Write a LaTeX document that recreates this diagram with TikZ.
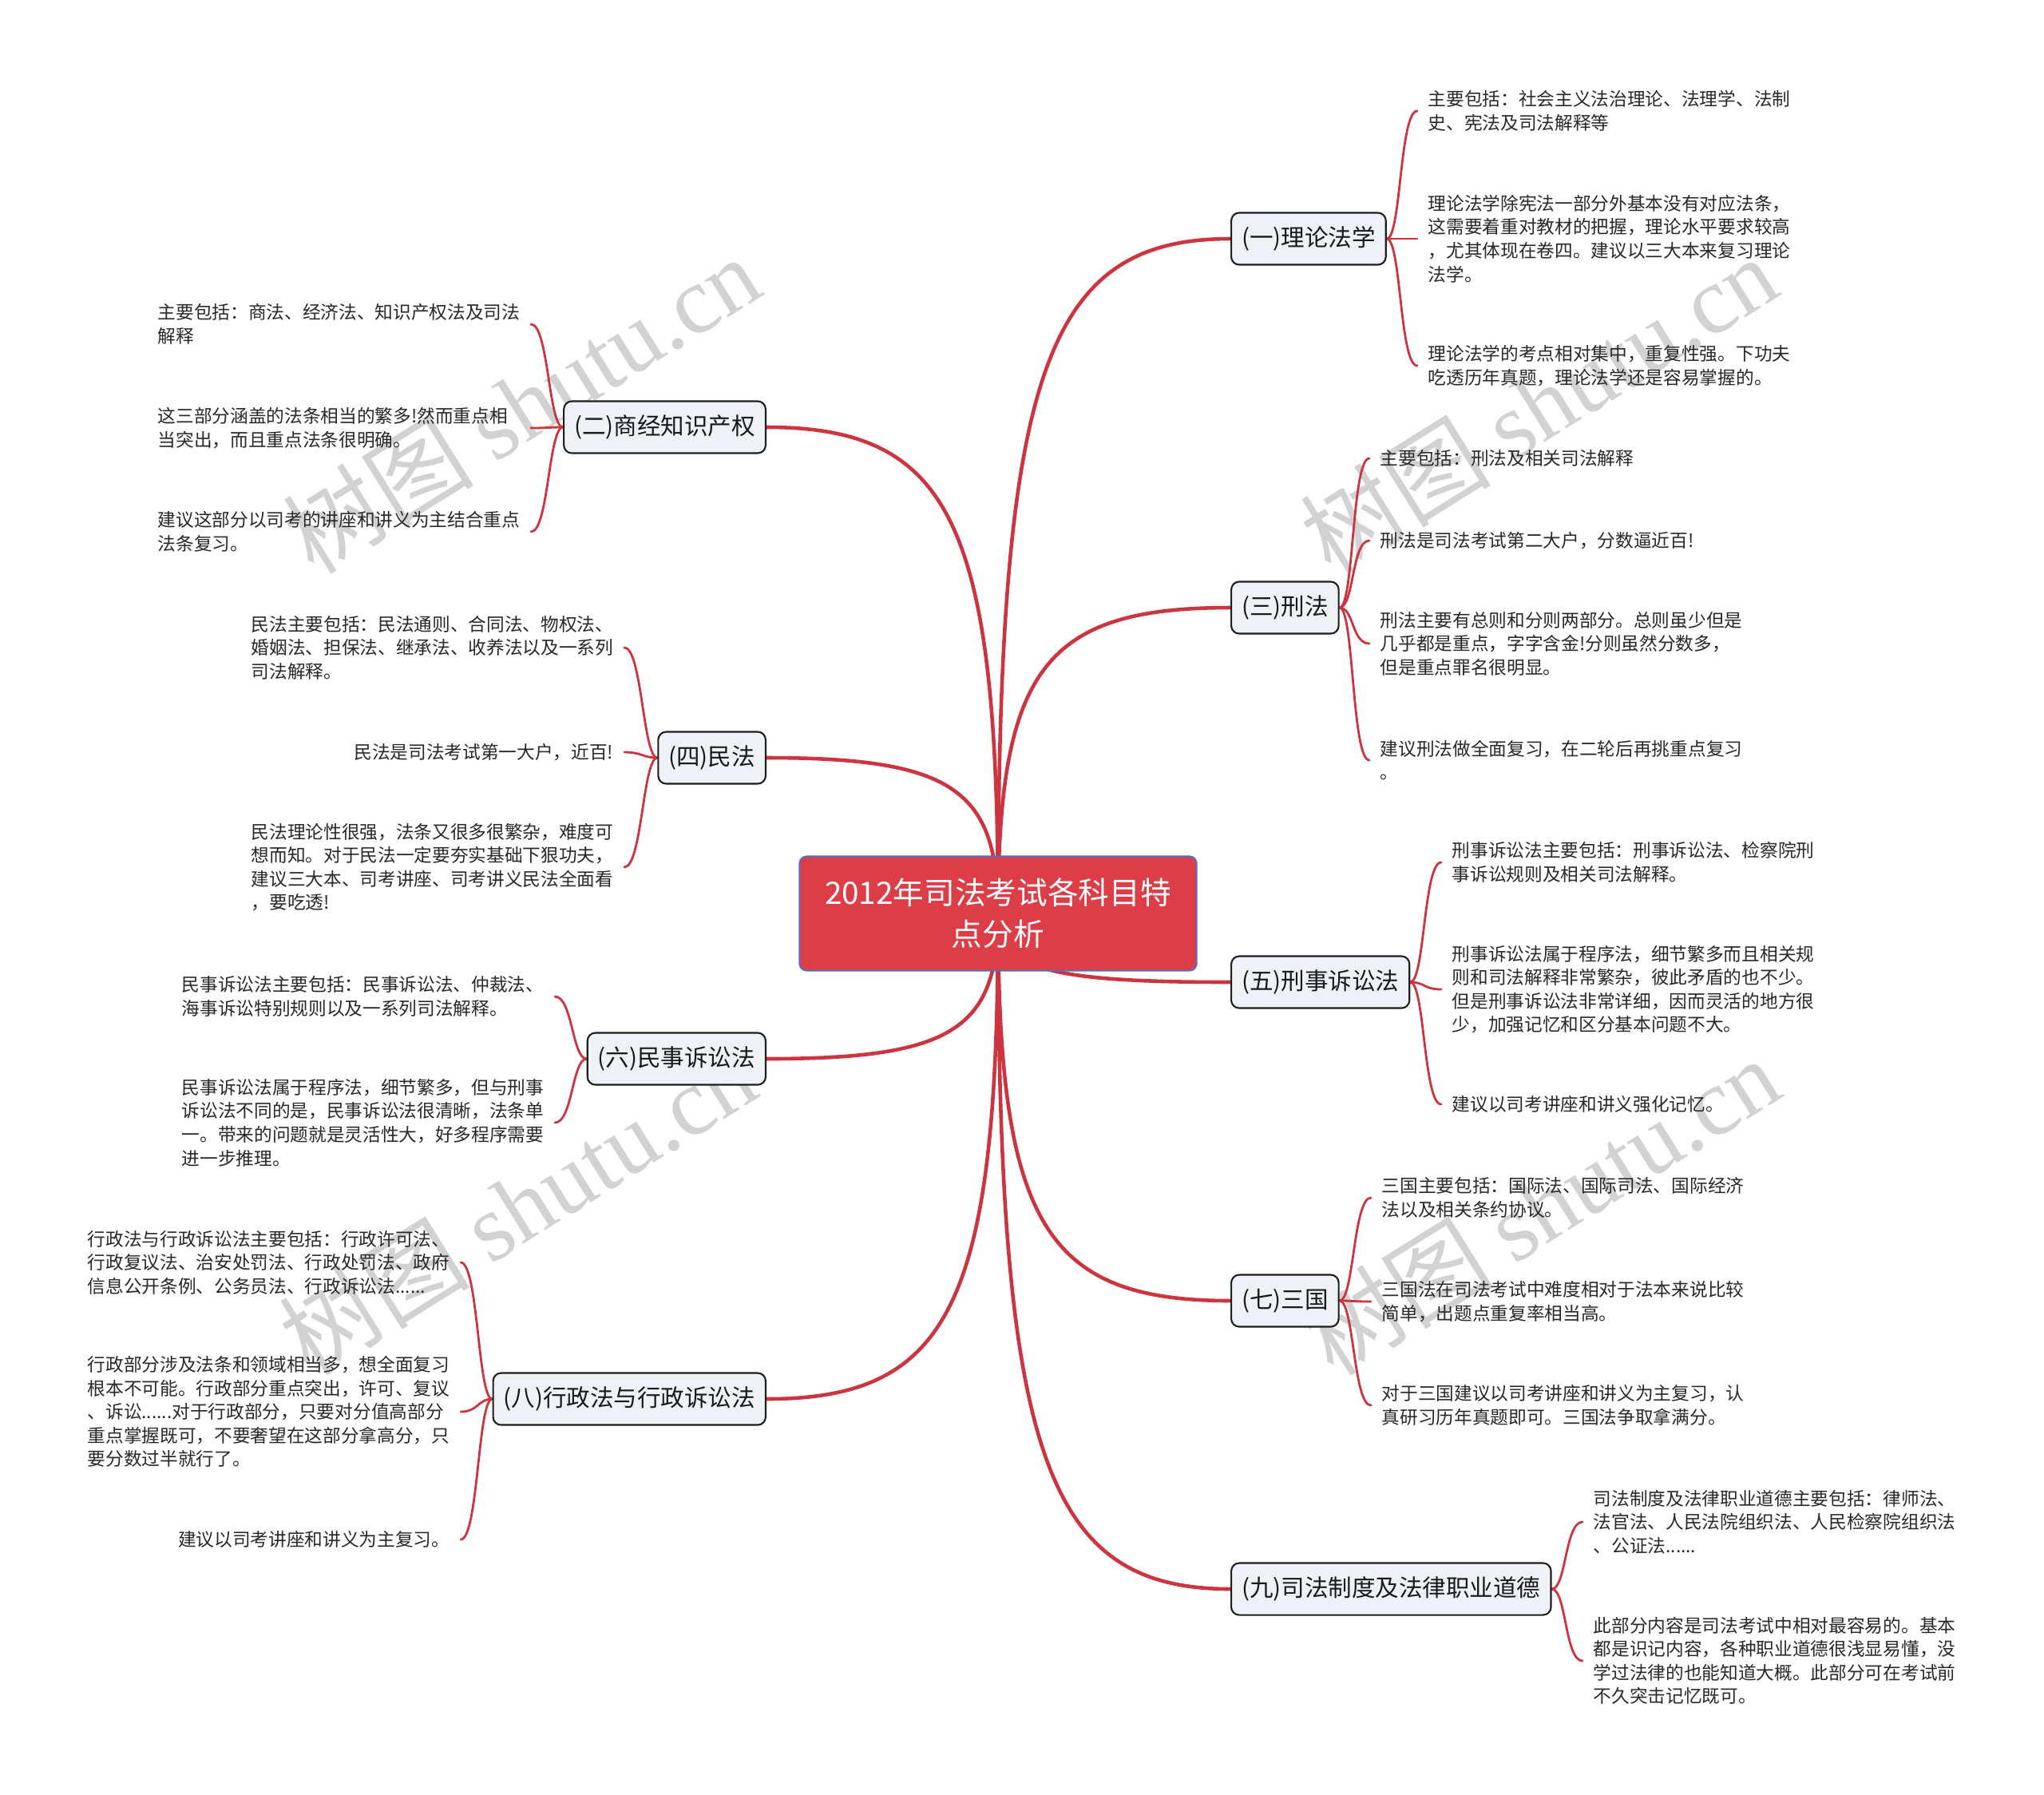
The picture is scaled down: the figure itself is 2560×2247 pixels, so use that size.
\documentclass[tikz,border=0pt]{standalone}
\usepackage{fontspec}
\setmainfont{Noto Sans CJK SC}
\newfontfamily\wmlatin{Liberation Serif}
\usetikzlibrary{calc}
\definecolor{linkred}{RGB}{204,52,64}
\definecolor{rootred}{RGB}{221,61,70}
\definecolor{rootedge}{RGB}{90,110,190}
\definecolor{branchfill}{RGB}{238,241,245}
\definecolor{branchedge}{RGB}{30,30,30}
\definecolor{leaftext}{RGB}{40,40,40}
\definecolor{wmgray}{RGB}{210,210,210}
\pgfdeclarelayer{bg}
\pgfsetlayers{bg,main}
\newcommand\rootlink[2]{\draw[mainlink] (root.center) .. controls ($(root.center)!0.8!(root.center |- #1.#2)$) and ($(#1.#2)!0.8!(root.center |- #1.#2)$) .. (#1.#2);}
\newcommand\leaflinkR[2]{\draw[sublink] (#1.east) .. controls +(18,0) and +(-22,0) .. (#2.west);}
\newcommand\leaflinkL[2]{\draw[sublink] (#1.west) .. controls +(-18,0) and +(22,0) .. (#2.east);}
\begin{document}
\begin{tikzpicture}[x=0.01cm,y=-0.01cm,
 rootbox/.style={draw=rootedge, line width=0.6pt, fill=rootred, rounded corners=0.09cm, text=white, minimum width=4.97cm, minimum height=1.43cm, align=center, font=\fontsize{11pt}{14.8pt}\selectfont, inner sep=0pt},
 topic/.style={draw=branchedge, line width=0.6pt, fill=branchfill, rounded corners=0.1cm, text=black!90, minimum height=0.65cm, inner xsep=0.13cm, inner ysep=0pt, font=\fontsize{8.4pt}{10pt}\selectfont},
 leafR/.style={anchor=west, align=left, inner xsep=0.13cm, inner ysep=0.02cm, text=leaftext, font=\fontsize{6.45pt}{8.4pt}\selectfont},
 leafL/.style={leafR, anchor=east},
 mainlink/.style={draw=linkred, line width=1.3pt, line cap=round},
 sublink/.style={draw=linkred, line width=0.8pt, line cap=round},
 watermark/.style={text=wmgray, rotate=32, font=\fontsize{34pt}{34pt}\selectfont}
]
\useasboundingbox (0,0) rectangle (2560,2247);

% root
\node[rootbox] (root) at (1250,1144) {2012年司法考试各科目特\\点分析};

% branches right
\node[topic, anchor=west] (b1) at (1541,299) {(一)理论法学};
\node[topic, anchor=west] (b3) at (1541,761) {(三)刑法};
\node[topic, anchor=west] (b5) at (1541,1230) {(五)刑事诉讼法};
\node[topic, anchor=west] (b7) at (1541,1629) {(七)三国};
\node[topic, anchor=west] (b9) at (1541,1990) {(九)司法制度及法律职业道德};
% branches left
\node[topic, anchor=east] (b2) at (960,535) {(二)商经知识产权};
\node[topic, anchor=east] (b4) at (960,949) {(四)民法};
\node[topic, anchor=east] (b6) at (960,1326) {(六)民事诉讼法};
\node[topic, anchor=east] (b8) at (960,1752) {(八)行政法与行政诉讼法};

% leaves (一)
\node[leafR] (a11) at (1775,139) {主要包括：社会主义法治理论、法理学、法制\\史、宪法及司法解释等};
\node[leafR] (a12) at (1775,299) {理论法学除宪法一部分外基本没有对应法条，\\这需要着重对教材的把握，理论水平要求较高\\，尤其体现在卷四。建议以三大本来复习理论\\法学。};
\node[leafR] (a13) at (1775,458) {理论法学的考点相对集中，重复性强。下功夫\\吃透历年真题，理论法学还是容易掌握的。};
% leaves (三)
\node[leafR] (a31) at (1715,574) {主要包括：刑法及相关司法解释};
\node[leafR] (a32) at (1715,677) {刑法是司法考试第二大户，分数逼近百!};
\node[leafR] (a33) at (1715,806) {刑法主要有总则和分则两部分。总则虽少但是\\几乎都是重点，字字含金!分则虽然分数多，\\但是重点罪名很明显。};
\node[leafR] (a34) at (1715,952) {建议刑法做全面复习，在二轮后再挑重点复习\\。};
% leaves (五)
\node[leafR] (a51) at (1805,1080) {刑事诉讼法主要包括：刑事诉讼法、检察院刑\\事诉讼规则及相关司法解释。};
\node[leafR] (a52) at (1805,1239) {刑事诉讼法属于程序法，细节繁多而且相关规\\则和司法解释非常繁杂，彼此矛盾的也不少。\\但是刑事诉讼法非常详细，因而灵活的地方很\\少，加强记忆和区分基本问题不大。};
\node[leafR] (a53) at (1805,1383) {建议以司考讲座和讲义强化记忆。};
% leaves (七)
\node[leafR] (a71) at (1717,1500) {三国主要包括：国际法、国际司法、国际经济\\法以及相关条约协议。};
\node[leafR] (a72) at (1717,1630) {三国法在司法考试中难度相对于法本来说比较\\简单，出题点重复率相当高。};
\node[leafR] (a73) at (1717,1760) {对于三国建议以司考讲座和讲义为主复习，认\\真研习历年真题即可。三国法争取拿满分。};
% leaves (九)
\node[leafR] (a91) at (1982,1906) {司法制度及法律职业道德主要包括：律师法、\\法官法、人民法院组织法、人民检察院组织法\\、公证法......};
\node[leafR] (a92) at (1982,2080) {此部分内容是司法考试中相对最容易的。基本\\都是识记内容，各种职业道德很浅显易懂，没\\学过法律的也能知道大概。此部分可在考试前\\不久突击记忆既可。};
% leaves (二)
\node[leafL] (a21) at (665,406) {主要包括：商法、经济法、知识产权法及司法\\解释};
\node[leafL, text width=129pt] (a22) at (665,536) {这三部分涵盖的法条相当的繁多!然而重点相\\当突出，而且重点法条很明确。};
\node[leafL] (a23) at (665,666) {建议这部分以司考的讲座和讲义为主结合重点\\法条复习。};
% leaves (四)
\node[leafL] (a41) at (782,811) {民法主要包括：民法通则、合同法、物权法、\\婚姻法、担保法、继承法、收养法以及一系列\\司法解释。};
\node[leafL] (a42) at (782,942) {民法是司法考试第一大户，近百!};
\node[leafL] (a43) at (782,1086) {民法理论性很强，法条又很多很繁杂，难度可\\想而知。对于民法一定要夯实基础下狠功夫，\\建议三大本、司考讲座、司考讲义民法全面看\\，要吃透!};
% leaves (六)
\node[leafL] (a61) at (695,1248) {民事诉讼法主要包括：民事诉讼法、仲裁法、\\海事诉讼特别规则以及一系列司法解释。};
\node[leafL] (a62) at (695,1406) {民事诉讼法属于程序法，细节繁多，但与刑事\\诉讼法不同的是，民事诉讼法很清晰，法条单\\一。带来的问题就是灵活性大，好多程序需要\\进一步推理。};
% leaves (八)
\node[leafL] (a81) at (577,1581) {行政法与行政诉讼法主要包括：行政许可法、\\行政复议法、治安处罚法、行政处罚法、政府\\信息公开条例、公务员法、行政诉讼法......};
\node[leafL] (a82) at (577,1768) {行政部分涉及法条和领域相当多，想全面复习\\根本不可能。行政部分重点突出，许可、复议\\、诉讼......对于行政部分，只要对分值高部分\\重点掌握既可，不要奢望在这部分拿高分，只\\要分数过半就行了。};
\node[leafL] (a83) at (577,1928) {建议以司考讲座和讲义为主复习。};

\begin{pgfonlayer}{bg}
\fill[white] (0,0) rectangle (2560,2247);
\node[watermark] (wm1) at (653,506) {树图 {\wmlatin shutu.cn}};
\node[watermark] (wm2) at (1927,506) {树图 {\wmlatin shutu.cn}};
\node[watermark] (wm3) at (648,1510) {树图 {\wmlatin shutu.cn}};
\node[watermark] (wm4) at (1930,1510) {树图 {\wmlatin shutu.cn}};
\rootlink{b1}{west}
\rootlink{b3}{west}
\rootlink{b5}{west}
\rootlink{b7}{west}
\rootlink{b9}{west}
\rootlink{b2}{east}
\rootlink{b4}{east}
\rootlink{b6}{east}
\rootlink{b8}{east}
\leaflinkR{b1}{a11}
\leaflinkR{b1}{a12}
\leaflinkR{b1}{a13}
\leaflinkR{b3}{a31}
\leaflinkR{b3}{a32}
\leaflinkR{b3}{a33}
\leaflinkR{b3}{a34}
\leaflinkR{b5}{a51}
\leaflinkR{b5}{a52}
\leaflinkR{b5}{a53}
\leaflinkR{b7}{a71}
\leaflinkR{b7}{a72}
\leaflinkR{b7}{a73}
\leaflinkR{b9}{a91}
\leaflinkR{b9}{a92}
\leaflinkL{b2}{a21}
\leaflinkL{b2}{a22}
\leaflinkL{b2}{a23}
\leaflinkL{b4}{a41}
\leaflinkL{b4}{a42}
\leaflinkL{b4}{a43}
\leaflinkL{b6}{a61}
\leaflinkL{b6}{a62}
\leaflinkL{b8}{a81}
\leaflinkL{b8}{a82}
\leaflinkL{b8}{a83}
\end{pgfonlayer}
\end{tikzpicture}
\end{document}
